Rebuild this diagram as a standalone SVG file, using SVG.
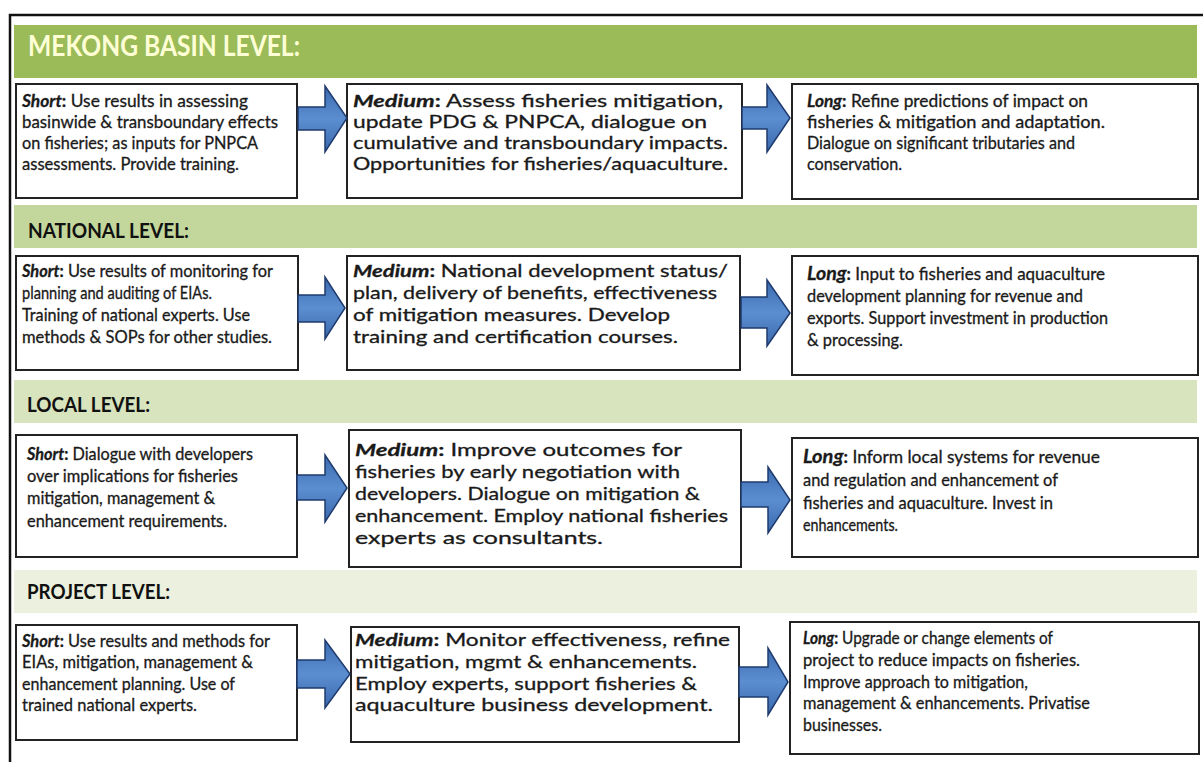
<svg xmlns="http://www.w3.org/2000/svg" width="1203" height="762" viewBox="0 0 1203 762">
<style>
.bg{fill:#ffffff}
.frame{fill:none;stroke:#111;stroke-width:2.5}
.box{fill:#ffffff;stroke:#222;stroke-width:2}
.t{font-family:Lato,"Liberation Sans",sans-serif;font-size:16.5px;fill:#1a1a1a;stroke:#1a1a1a;stroke-width:0.3}
.m{font-size:17px}
.b{font-weight:bold}
.bi{font-weight:bold;font-style:italic}
.big{font-size:19px}
.h{font-family:Lato,"Liberation Sans",sans-serif;font-weight:bold}
.arrow{fill:url(#ag);stroke:#1F3B6E;stroke-width:1.5;stroke-linejoin:miter}
</style>
<defs>
<linearGradient id="ag" x1="0" y1="0" x2="0" y2="1">
<stop offset="0" stop-color="#3B6BB0"/>
<stop offset="0.5" stop-color="#5B8ED0"/>
<stop offset="1" stop-color="#3A68AC"/>
</linearGradient>
</defs>
<rect class="bg" x="0" y="0" width="1203" height="762"/>
<path class="frame" d="M1210 15 H10 V762"/>

<g id="header-mekong">
<rect x="14" y="25" width="1183" height="53" fill="#9BBB59"/>
<text class="h" x="28" y="56" font-size="28" fill="#FFFFD6" textLength="272" lengthAdjust="spacingAndGlyphs">MEKONG BASIN LEVEL:</text>
</g>
<g id="header-national">
<rect x="14" y="205" width="1183" height="43" fill="#C3D69B"/>
<text class="h" x="28" y="238" font-size="21" fill="#111" textLength="161" lengthAdjust="spacingAndGlyphs">NATIONAL LEVEL:</text>
</g>
<g id="header-local">
<rect x="14" y="380" width="1183" height="43" fill="#D7E4BD"/>
<text class="h" x="27" y="412" font-size="21" fill="#111" textLength="123" lengthAdjust="spacingAndGlyphs">LOCAL LEVEL:</text>
</g>
<g id="header-project">
<rect x="14" y="570" width="1183" height="43" fill="#EBF1DE"/>
<text class="h" x="27" y="599" font-size="21" fill="#111" textLength="143" lengthAdjust="spacingAndGlyphs">PROJECT LEVEL:</text>
</g>

<g id="mekong-short">
<rect class="box" x="16" y="84" width="281" height="114"/>
<text class="t" x="22" y="107" textLength="226" lengthAdjust="spacingAndGlyphs"><tspan class="bi">Short</tspan><tspan class="b">:</tspan> Use results in assessing</text>
<text class="t" x="22" y="128" textLength="256" lengthAdjust="spacingAndGlyphs">basinwide &amp; transboundary effects</text>
<text class="t" x="22" y="149" textLength="236" lengthAdjust="spacingAndGlyphs">on fisheries; as inputs for PNPCA</text>
<text class="t" x="22" y="170" textLength="217" lengthAdjust="spacingAndGlyphs">assessments. Provide training.</text>
</g>
<g id="mekong-medium">
<rect class="box" x="347" y="84" width="395" height="114"/>
<text class="t m" x="353" y="107" textLength="370" lengthAdjust="spacingAndGlyphs"><tspan class="bi">Medium</tspan><tspan class="b">:</tspan> Assess fisheries mitigation,</text>
<text class="t m" x="353" y="128" textLength="354" lengthAdjust="spacingAndGlyphs">update PDG &amp; PNPCA, dialogue on</text>
<text class="t m" x="353" y="149" textLength="375" lengthAdjust="spacingAndGlyphs">cumulative and transboundary impacts.</text>
<text class="t m" x="353" y="170" textLength="375" lengthAdjust="spacingAndGlyphs">Opportunities for fisheries/aquaculture.</text>
</g>
<g id="mekong-long">
<rect class="box" x="792" y="84" width="406" height="115"/>
<text class="t" x="807" y="107" textLength="281" lengthAdjust="spacingAndGlyphs"><tspan class="bi">Long</tspan><tspan class="b">:</tspan> Refine predictions of impact on</text>
<text class="t" x="807" y="128" textLength="298" lengthAdjust="spacingAndGlyphs">fisheries &amp; mitigation and adaptation.</text>
<text class="t" x="807" y="149" textLength="268" lengthAdjust="spacingAndGlyphs">Dialogue on significant tributaries and</text>
<text class="t" x="807" y="170" textLength="95" lengthAdjust="spacingAndGlyphs">conservation.</text>
</g>

<g id="national-short">
<rect class="box" x="16" y="256" width="282" height="114"/>
<text class="t" x="22" y="277" textLength="251" lengthAdjust="spacingAndGlyphs"><tspan class="bi">Short</tspan><tspan class="b">:</tspan> Use results of monitoring for</text>
<text class="t" x="22" y="299" textLength="190" lengthAdjust="spacingAndGlyphs">planning and auditing  of EIAs.</text>
<text class="t" x="22" y="321" textLength="228" lengthAdjust="spacingAndGlyphs">Training of national experts. Use</text>
<text class="t" x="22" y="343" textLength="250" lengthAdjust="spacingAndGlyphs">methods &amp; SOPs for other studies.</text>
</g>
<g id="national-medium">
<rect class="box" x="347" y="256" width="393" height="114"/>
<text class="t m" x="353" y="277" textLength="375" lengthAdjust="spacingAndGlyphs"><tspan class="bi">Medium</tspan><tspan class="b">:</tspan> National development status/</text>
<text class="t m" x="353" y="299" textLength="364" lengthAdjust="spacingAndGlyphs">plan, delivery of benefits, effectiveness</text>
<text class="t m" x="353" y="321" textLength="317" lengthAdjust="spacingAndGlyphs">of mitigation measures. Develop</text>
<text class="t m" x="353" y="343" textLength="325" lengthAdjust="spacingAndGlyphs">training and certification courses.</text>
</g>
<g id="national-long">
<rect class="box" x="792" y="256" width="406" height="119"/>
<text class="t" x="807" y="280" textLength="298" lengthAdjust="spacingAndGlyphs"><tspan class="bi big">Long</tspan><tspan class="b">:</tspan> Input to fisheries and aquaculture</text>
<text class="t" x="807" y="302" textLength="276" lengthAdjust="spacingAndGlyphs">development planning for revenue and</text>
<text class="t" x="807" y="324" textLength="301" lengthAdjust="spacingAndGlyphs">exports. Support investment in production</text>
<text class="t" x="807" y="346" textLength="96" lengthAdjust="spacingAndGlyphs">&amp; processing.</text>
</g>

<g id="local-short">
<rect class="box" x="16" y="435" width="281" height="122"/>
<text class="t" x="27" y="460" textLength="226" lengthAdjust="spacingAndGlyphs"><tspan class="bi">Short</tspan><tspan class="b">:</tspan> Dialogue with developers</text>
<text class="t" x="27" y="482" textLength="211" lengthAdjust="spacingAndGlyphs">over implications for fisheries</text>
<text class="t" x="27" y="504" textLength="188" lengthAdjust="spacingAndGlyphs">mitigation, management &amp;</text>
<text class="t" x="27" y="527" textLength="200" lengthAdjust="spacingAndGlyphs">enhancement requirements.</text>
</g>
<g id="local-medium">
<rect class="box" x="349" y="430" width="392" height="137"/>
<text class="t m" x="355" y="456" textLength="327" lengthAdjust="spacingAndGlyphs"><tspan class="bi">Medium</tspan><tspan class="b">:</tspan> Improve outcomes for</text>
<text class="t m" x="355" y="478" textLength="325" lengthAdjust="spacingAndGlyphs">fisheries by early negotiation with</text>
<text class="t m" x="355" y="500" textLength="345" lengthAdjust="spacingAndGlyphs">developers. Dialogue on mitigation &amp;</text>
<text class="t m" x="355" y="522" textLength="373" lengthAdjust="spacingAndGlyphs">enhancement. Employ national fisheries</text>
<text class="t m" x="355" y="544" textLength="248" lengthAdjust="spacingAndGlyphs">experts as consultants.</text>
</g>
<g id="local-long">
<rect class="box" x="792" y="438" width="406" height="119"/>
<text class="t" x="803" y="463" textLength="297" lengthAdjust="spacingAndGlyphs"><tspan class="bi big">Long</tspan><tspan class="b">:</tspan> Inform local systems for revenue</text>
<text class="t" x="803" y="486" textLength="255" lengthAdjust="spacingAndGlyphs">and regulation and enhancement of</text>
<text class="t" x="803" y="509" textLength="250" lengthAdjust="spacingAndGlyphs">fisheries and aquaculture. Invest in</text>
<text class="t" x="803" y="531" textLength="95" lengthAdjust="spacingAndGlyphs">enhancements.</text>
</g>

<g id="project-short">
<rect class="box" x="16" y="625" width="281" height="115"/>
<text class="t" x="22" y="647" textLength="248" lengthAdjust="spacingAndGlyphs"><tspan class="bi">Short</tspan><tspan class="b">:</tspan> Use results and methods for</text>
<text class="t" x="22" y="668" textLength="231" lengthAdjust="spacingAndGlyphs">EIAs, mitigation, management &amp;</text>
<text class="t" x="22" y="690" textLength="213" lengthAdjust="spacingAndGlyphs">enhancement planning. Use of</text>
<text class="t" x="22" y="711" textLength="175" lengthAdjust="spacingAndGlyphs">trained national experts.</text>
</g>
<g id="project-medium">
<rect class="box" x="351" y="627" width="388" height="115"/>
<text class="t m" x="355" y="646" textLength="375" lengthAdjust="spacingAndGlyphs"><tspan class="bi">Medium</tspan><tspan class="b">:</tspan> Monitor effectiveness, refine</text>
<text class="t m" x="355" y="668" textLength="342" lengthAdjust="spacingAndGlyphs">mitigation, mgmt &amp; enhancements.</text>
<text class="t m" x="355" y="690" textLength="342" lengthAdjust="spacingAndGlyphs">Employ experts, support fisheries &amp;</text>
<text class="t m" x="355" y="711" textLength="358" lengthAdjust="spacingAndGlyphs">aquaculture business development.</text>
</g>
<g id="project-long">
<rect class="box" x="790" y="622" width="409" height="132"/>
<text class="t" x="803" y="644" font-size="15.5" textLength="250" lengthAdjust="spacingAndGlyphs"><tspan class="bi">Long</tspan><tspan class="b">:</tspan> Upgrade or change elements of</text>
<text class="t" x="803" y="666" textLength="277" lengthAdjust="spacingAndGlyphs">project to reduce impacts on fisheries.</text>
<text class="t" x="803" y="688" textLength="225" lengthAdjust="spacingAndGlyphs">Improve approach to mitigation,</text>
<text class="t" x="803" y="709" textLength="287" lengthAdjust="spacingAndGlyphs">management &amp; enhancements. Privatise</text>
<text class="t" x="803" y="731" textLength="79" lengthAdjust="spacingAndGlyphs">businesses.</text>
</g>

<g id="connectors">
<polygon class="arrow" points="298,107 325,107 325,86 347,118 325,152 325,130 298,130"/>
<polygon class="arrow" points="742,107 767,107 767,85 790,118 767,152 767,129 742,129"/>
<polygon class="arrow" points="298,295 325,295 325,277 345,308 325,339 325,322 298,322"/>
<polygon class="arrow" points="741,297 767,297 767,280 790,313 767,346 767,328 741,328"/>
<polygon class="arrow" points="297,475 325,475 325,455 347,488 325,522 325,500 297,500"/>
<polygon class="arrow" points="741,482 768,482 768,467 790,500 768,533 768,507 741,507"/>
<polygon class="arrow" points="297,660 325,660 325,640 350,674 325,708 325,688 297,688"/>
<polygon class="arrow" points="739,667 768,667 768,648 788,682 768,715 768,697 739,697"/>
</g>
</svg>
